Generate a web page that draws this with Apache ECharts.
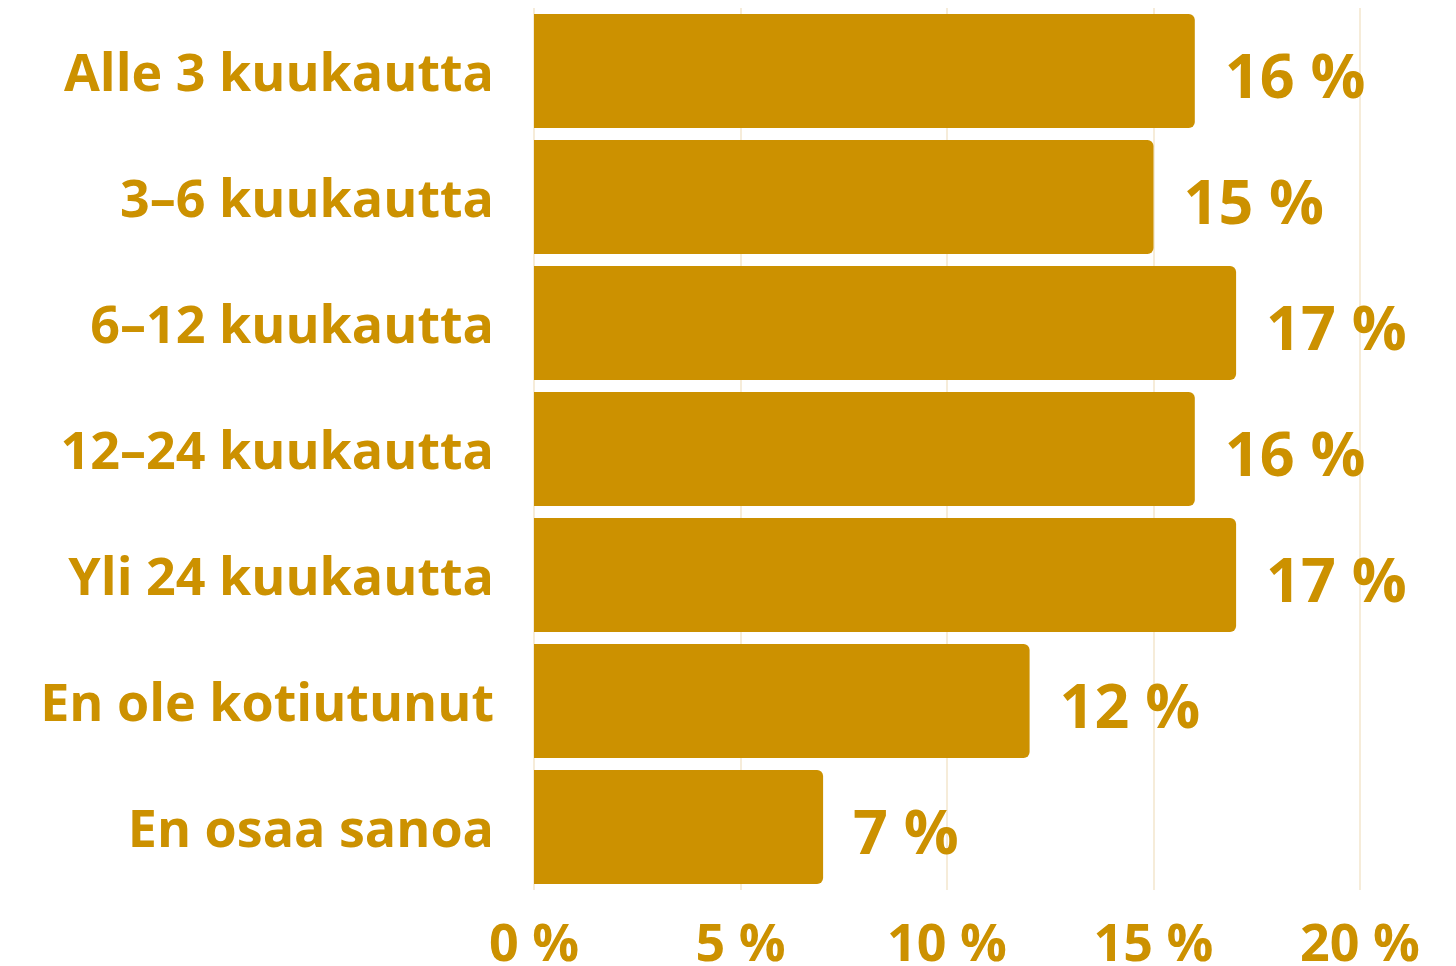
<!DOCTYPE html>
<html><head><meta charset="utf-8">
<script src="https://cdn.jsdelivr.net/npm/echarts@6/dist/echarts.min.js"></script>
<style>html,body{margin:0;padding:0;background:#fff}#c{width:1456px;height:966px}</style>
</head><body><div id="c"></div>
<script>
const categories = ["Alle 3 kuukautta","3–6 kuukautta","6–12 kuukautta","12–24 kuukautta","Yli 24 kuukautta","En ole kotiutunut","En osaa sanoa"];
const values = [16,15,17,16,17,12,7];
const tickValues = [0,5,10,15,20];
const gold = '#CC9100';
const chart = echarts.init(document.getElementById('c'), null, {renderer:'canvas'});
chart.setOption({
  animation:false,
  grid:{left:534,right:96,top:8,bottom:76,containLabel:false,outerBoundsMode:'none'},
  xAxis:{type:'value',min:0,max:20,interval:5,
    axisLine:{show:false},axisTick:{show:false},
    splitLine:{show:true,lineStyle:{color:'#F3E6CC',width:1.5}},
    axisLabel:{color:gold,fontFamily:'"Liberation Sans Narrow","Open Sans",sans-serif',fontWeight:'bold',fontSize:52,margin:30,
      formatter:v=>tickValues.includes(v)?v+' %':''}},
  yAxis:{type:'category',inverse:true,data:categories,
    axisLine:{show:false},axisTick:{show:false},
    axisLabel:{margin:40,formatter:v=>'{a|'+v+'}',
      rich:{a:{color:gold,fontFamily:'"Open Sans",sans-serif',fontWeight:'bold',fontSize:52,padding:[10,0,0,0]}}}},
  series:[{type:'bar',data:values,barCategoryGap:'9.5%',
    itemStyle:{color:gold,borderRadius:[0,6,6,0]},
    label:{show:true,position:'right',distance:30,offset:[0,10],color:gold,
      fontFamily:'"Open Sans",sans-serif',fontWeight:'bold',fontSize:61,formatter:p=>p.value+' %'}}]
});
</script></body></html>
